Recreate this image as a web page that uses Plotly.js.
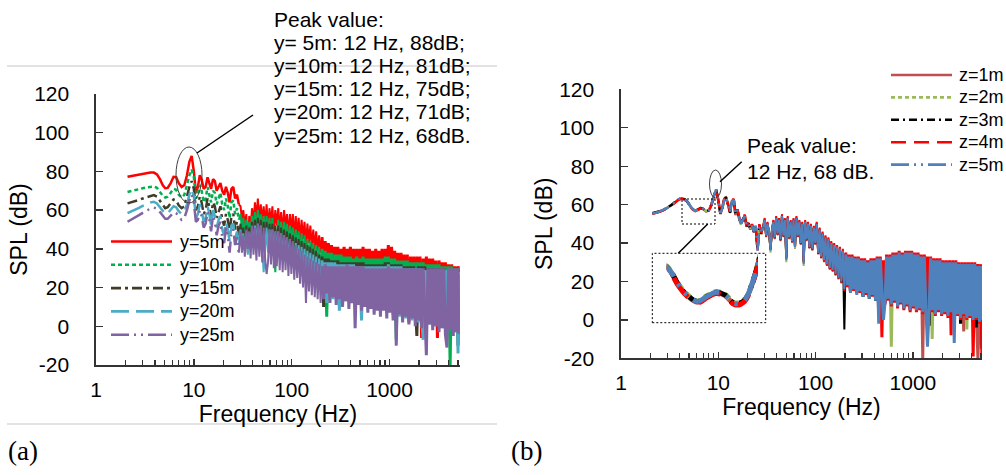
<!DOCTYPE html>
<html>
<head>
<meta charset="utf-8">
<script src="https://cdn.plot.ly/plotly-3.0.1.min.js"></script>
<style>html,body{margin:0;padding:0;background:#fff}#chart{width:1006px;height:475px}</style>
</head>
<body>
<div id="chart"></div>
<script>
// ---------------- DATA ----------------
const freq = [2.1,2.3,2.5,2.75,3.0,3.3,3.6,3.9,4.2,4.5,4.8,5.1,5.4,5.8,6.2,6.6,7.0,7.5,8.0,8.5,9.0,9.5,
10.0,10.5,11.0,11.5,12.0,12.6,13.2,13.8,14.4,15.0,15.7,16.4,17.1,17.9,18.7,19.5,20.4,21.3,22.2,23.2,24.2,25.3,26.4,27.6,28.8,
30,31,32,33.2,34.4,35.6,36.8,38,39.3,40.7,42.1,43.6,45.1,46.7,48.3,50,51.7,53.5,55.4,57.3,59.3,61.4,63.5,65.7,68,70.4,72.9,75.4,78,80.8,
83.6,86.5,89.5,92.6,95.9,99.2,102.7,106.3,110,113.8,117.8,121.9,126.2,130.6,135.2,139.9,144.8,149.9,155.1,160.5,166.2,172,178,184.2,190.7,197.4,
204,212,220,228,237,246,255,265,275,285,296,307,319,331,343,356,370,384,398,413,429,445,462,480,498,517,536,557,578,600,
622,646,670,696,722,750,778,807,838,870,903,937,972,1009,1048,1087,1129,1171,1216,1262,1310,1360,1411,1465,1520,1578,1638,1700,1765,1832,
1901,1973,2048,2126,2207,2291,2378,2468,2562,2659,2760,2865,2974,3087,3204,3326,3452,3583,3719,3861,4007,4160,4318,4482,4652,4829,5012,5110];

// Panel (a): lateral distance y
const namesA = ['y=5m','y=10m','y=15m','y=20m','y=25m'];
const splY5 = [77.2,77.6,78,78.5,79,79.3,79.5,79.4,78.5,76,73,71.3,71.5,74,77.2,77,74,72,73,78,85,88,
80,69,72,78,76,71,72,77,74,71,76,75,70,72,74,70,68,72,69,64,71,72,66,68,63,
62,55,60,52,58,38,57,50,61,53,64,56,66,55,63,54,62,52,63,50,61,53,62,49,60,52,61,50,59,48,60,51,58,47,58,49,58,46,57,47,56,44,55,45,54,42,53,43,52,41,50,40,49,39,47,38,
46,36,44,33,43,35,42,31,41,33,41,30,40,32,41,29,40,31,41,28,40,30,40,27,40,29,41,28,40,27,40,29,39,26,40,28,39,27,40,26,
40,28,42,25,41,27,39,24,38,26,38,23,37,25,37,2,36,24,36,22,36,24,36,-6,35,23,36,21,35,23,35,20,34,-6,34,22,33,19,33,21,
32,18,32,20,31,17,31,28];
const splY10 = [69.4,69.8,70.3,70.8,71.3,71.8,72.2,72.2,71.5,69.5,67.5,66.5,67,69,71,70.5,68,66.5,68,73,78,81,
77,66,68,73,70,64,66,72,68,64,70,69,63,66,69,63,60,66,62,56,64,65,58,61,55,
58,50,56,47,55,44,54,46,57,48,59,50,60,49,58,47,57,48,57,46,56,47,56,45,28,46,55,44,54,43,54,44,53,41,52,42,51,40,50,39,49,37,48,36,47,34,45,33,44,32,43,30,42,29,41,28,
40,28,39,5,38,26,38,24,37,27,37,23,37,26,36,22,36,25,36,21,35,24,36,20,35,23,36,19,35,22,35,18,35,21,35,17,35,20,35,16,
36,19,36,15,35,18,35,-7,34,17,34,14,34,16,34,13,33,15,33,12,33,14,33,11,33,13,32,10,32,12,32,9,32,11,32,8,31,10,31,7,
31,-20,31,6,30,8,30,29];
const splY15 = [63.5,64,64.6,65.3,66,66.8,67.5,67.8,67,65,62.5,61,61.5,63.5,65.5,65,62.5,61,62,67,72,75,
71,60,62,67,64,58,60,66,62,57,64,62,56,59,62,55,52,58,55,48,57,58,50,54,47,
53,45,51,42,52,40,51,43,54,44,55,45,56,44,55,42,54,43,54,41,53,42,53,40,52,41,52,39,51,38,50,39,49,36,48,37,47,34,46,35,45,32,44,31,43,22,42,29,41,27,40,26,39,24,37,23,
36,10,35,24,35,22,34,25,34,21,34,24,33,20,33,23,33,19,33,22,33,18,33,21,33,17,33,20,32,16,32,19,32,15,32,18,32,14,32,17,
33,13,33,16,32,12,32,15,32,11,32,14,31,10,31,13,31,9,31,12,-5,31,11,31,8,31,10,30,7,30,9,30,6,30,8,30,5,30,7,29,
4,29,6,29,3,29,-10,27];
const splY20 = [58.5,59.3,60.2,61.2,62.2,63.2,64,64.3,63.5,61.5,59.5,58,58.3,60,62,61.5,59.5,58,59,63,68,71,
67,56,58,63,60,54,56,62,58,52,60,57,51,55,57,50,47,54,50,44,52,53,45,49,42,
50,41,48,39,49,37,48,40,51,41,52,42,53,41,52,39,28,40,51,38,50,39,50,37,49,38,49,36,48,35,47,36,46,33,45,34,31,31,43,32,42,29,41,28,40,26,39,25,38,23,37,22,36,20,35,19,
34,18,33,12,33,19,33,14,33,18,32,8,32,17,32,13,32,16,32,12,32,15,31,11,31,3,31,13,31,10,31,13,31,9,31,12,31,8,31,11,
31,7,32,10,31,6,31,9,31,5,31,8,30,4,30,7,30,3,30,6,30,2,30,5,-7,29,4,29,1,29,3,29,0,29,2,29,-1,29,1,29,
-2,28,0,28,-3,28,-14,27];
const splY25 = [54,55,56.2,57.4,58.6,59.8,60.8,61.3,60.8,59,57,55.5,55.5,57,58.7,58.5,56.5,55,56,60,65,68,
64,54,55,60,57,51,53,59,55,49,57,54,47,52,54,46,43,51,47,38,49,50,42,46,38,
49,38,47,36,50,40,49,35,52,37,51,34,53,36,52,33,51,35,27,33,50,32,50,30,49,31,49,29,48,28,47,29,46,26,45,27,44,24,42,25,40,22,39,20,37,12,36,18,35,16,34,15,33,14,32,12,
31,14,32,17,31,12,31,15,31,11,31,14,31,10,31,13,32,9,31,12,31,-1,31,11,31,8,31,10,30,7,30,9,30,6,30,8,30,5,30,8,
30,4,31,7,30,3,30,-10,30,6,30,2,30,5,30,1,30,4,30,0,30,3,30,-1,30,2,-15,30,1,30,-2,30,0,30,-3,30,-1,30,-4,-11,
30,-2,30,-5,30,-3,30,-4];

// Panel (b): height z
const namesB = ['z=1m','z=2m','z=3m','z=4m','z=5m'];
const splZ1 = [55.3,55.7,56.4,57.2,58.2,59.7,61.2,62.6,63.2,62.7,61.4,59.2,57.7,56.7,57.5,58.1,57.7,56.4,56.9,59.9,64.4,67.6,
62.3,55,58.4,62.8,63.6,59.5,56.4,61.8,62,54.5,57.5,52.5,50.5,52.5,53.5,48.5,50.5,47,49.5,45.5,48.5,37,48.5,45.5,47.5,
52.5,43,50.5,45,37,46,51.5,42,53.5,44,52.5,41,54.5,43,52.5,33,53.5,42,51.5,40,52.5,37,53.5,43,51.5,39,50.5,31,51.5,41,50.5,37,49.5,36,48.5,39,50,34,47.5,32,45.5,30,43.5,28,42.5,26,40.5,25,39.5,23,38.5,21,37.5,19,36.5,17,
34,19,33,15,33,17,32,14,32,16,31,13,31,15,30,12,31,14,31,11,32,6,32,12,30,10,33,12,33,9,34,11,34,8,35,10,34,7,35,9,
35,6,35,8,34,6,34,7,33,-20,33,7,32,5,32,6,31,4,31,6,31,4,30,5,30,3,30,5,30,2,30,4,29,2,29,-6,29,2,29,3,
29,1,29,2,-20,0,28,-8];
const splZ2 = [55.4,55.8,56.6,57.4,58.4,59.9,61.4,62.8,63.4,62.9,61.6,59.4,57.9,56.9,57.7,58.3,57.9,56.6,57.1,60.1,64.6,67.7,
61.8,55.8,57.6,62.2,64.3,60.4,55.6,61.2,62.8,55.5,56.6,53.4,49.6,51.6,54.4,49.5,49.6,48,48.6,46.5,49.4,38,49.3,44.6,48.3,
51.5,44.5,49.5,46.5,35,47.5,50.5,43.5,52.5,45.5,51.5,42.5,53.5,44.5,51.5,30,52.5,43.5,50.5,41.5,51.5,37,52.5,44.5,50.5,40.5,49.5,28,50.5,42.5,49.5,38.5,48.5,37.5,47.5,40.5,49.5,35.5,46.5,33.5,44.5,31.5,42.5,29.5,41.5,27.5,39.5,26.5,38.5,24.5,37.5,22.5,36.5,20.5,35.5,17,
33,19,32,16,32,17,31,15,31,16,30,13,30,15,29,12,30,14,30,11,31,7,31,12,29,10,32,12,32,-14,33,11,33,8,34,10,33,7,34,9,
34,6,34,8,33,6,33,7,32,5,32,7,31,5,31,-10,30,4,30,6,30,4,29,5,29,3,29,5,29,2,29,4,28,2,28,4,28,-5,28,3,
28,1,28,2,27,0,27,1];
const splZ3 = [55.5,55.9,56.5,57.3,58.3,59.8,61.3,62.7,63.3,62.8,61.5,59.3,57.8,56.8,57.6,58.2,57.8,56.5,57.0,60.0,64.5,67.9,
62.1,55.3,58.2,62.4,63.9,59.8,55.8,61.4,62.6,54.8,57.2,52.8,49.8,52.2,54.2,48.8,50.2,47.2,49.2,45.8,49.2,36.5,49.1,44.8,48.1,
52,43.5,50,45.5,36.5,46.5,51,42.5,53,44.5,52,41.5,54,43.5,52,32,53,42.5,51,40.5,52,38,53,43.5,51,39.5,50,30,51,41.5,50,37.5,49,36.5,48,39.5,50.5,34.5,47,32.5,45,30.5,43,28.5,42,26.5,40,25.5,39,23.5,38,21.5,37,19.5,36,-5,
34,18,33,15,33,16,32,14,32,15,31,12,31,14,30,11,31,13,31,10,32,5,32,11,30,9,33,11,33,8,34,10,34,7,35,9,34,6,35,8,
35,5,35,7,34,5,34,6,33,4,33,6,32,-3,32,5,31,3,31,5,31,3,30,4,30,2,30,4,30,1,30,3,29,-2,29,3,29,1,29,2,
29,0,29,-4,28,-1,28,-15];
const splZ4 = [55.2,55.6,56.3,57.1,58.1,59.6,61.1,62.5,63.1,62.6,61.3,59.1,57.6,56.6,57.4,58.0,57.6,56.3,56.8,59.8,64.3,67.5,
62.6,55.2,58.6,63,64.5,60.3,56.2,62,63,55.2,57.8,53.5,50.3,52.8,54.8,49.2,50.8,47.7,49.8,46.2,49.8,35.5,49.8,45.2,48.8,
53,43.5,51,45.5,37,46.5,52,42.5,54,44.5,53,41.5,55,43.5,53,32,54,42.5,52,40.5,53,38,54,43.5,52,39.5,51,30,52,41.5,51,37.5,50,36.5,49,39.5,51,34.5,48,32.5,46,30.5,44,28.5,43,26.5,41,25.5,40,23.5,39,21.5,38,19.5,37,15,
35,17,34,15,34,15,33,14,33,14,32,13,32,13,31,12,32,12,32,11,33,2,33,-9,31,8,34,10,34,7,35,9,35,6,36,8,35,5,36,7,
36,4,36,6,35,4,35,5,34,3,34,5,33,3,33,4,32,2,32,4,32,2,31,3,31,1,31,-8,31,3,31,2,30,0,30,2,30,0,30,1,
30,-19,30,0,29,-2,29,-19];
const splZ5 = [55.5,55.8,56.5,57.3,58.3,59.8,61.3,62.7,63.3,62.8,61.5,59.3,57.8,56.8,57.6,58.2,57.8,56.5,57.0,60.0,64.5,67.8,
62,55.5,58,62.5,64,60,56,61.5,62.5,55,57,53,50,52,54,49,50,47.5,49,46,49,36,49,45,48,
52,44,50,46,36,47,51,43,53,45,52,42,54,44,52,31,53,43,51,41,52,38,53,44,51,40,50,29,51,42,50,38,49,37,48,40,50,35,47,33,45,31,43,29,42,27,40,26,39,24,38,22,37,20,36,16,
34,18,33,14,33,16,32,13,32,15,31,12,31,14,30,11,31,13,31,10,32,-2,32,11,0,9,33,11,33,8,34,10,34,7,35,9,34,6,35,8,
35,5,35,7,34,5,34,6,33,4,33,6,-14,4,32,5,31,3,31,5,31,3,30,4,30,2,30,4,30,-12,30,3,29,1,29,3,29,1,29,2,
29,0,29,1,28,-1,28,0];

const xTickVals = [1, 10, 100, 1000];
const xTickText = ['1', '10', '100', '1000'];
const yTickVals = [-20, 0, 20, 40, 60, 80, 100, 120];
const yTickText = ['-20', '0', '20', '40', '60', '80', '100', '120'];
const peakTextA = ['Peak value:', 'y= 5m: 12 Hz, 88dB;', 'y=10m: 12 Hz, 81dB;', 'y=15m: 12 Hz, 75dB;', 'y=20m: 12 Hz, 71dB;', 'y=25m: 12 Hz, 68dB.'];
const peakTextB = ['Peak value:', '12 Hz, 68 dB.'];
const axisTitleX = 'Frequency (Hz)';
const axisTitleY = 'SPL (dB)';

// ---------------- STYLE ----------------
const W = 1006, H = 475;
const PX = p => p / W;
const PY = p => 1 - p / H;
const FONT = 'Liberation Sans, Arial, Helvetica, sans-serif';

const stylesA = [
  {color: '#FF0000', dash: 'solid'},
  {color: '#00B050', dash: '4px,3px'},
  {color: '#3F3D2A', dash: '10px,4px,3px,4px'},
  {color: '#4BACC6', dash: '18px,7px'},
  {color: '#8064A2', dash: '18px,5px,2px,5px,2px,5px'}
];
const stylesB = [
  {color: '#C0504D', dash: 'solid'},
  {color: '#9BBB59', dash: '4px,3px'},
  {color: '#000000', dash: '8px,4px,2px,4px'},
  {color: '#FF0000', dash: '15px,8px'},
  {color: '#4F81BD', dash: '18px,5px,2px,5px,2px,5px'}
];
const seriesA = [splY5, splY10, splY15, splY20, splY25];
const seriesB = [splZ1, splZ2, splZ3, splZ4, splZ5];

// index ranges: smooth part drawn with the dash style, noisy parts solid
const SPLIT1 = 46, SPLIT2 = 103;
const traces = [];
function part(y, st, xa, ya, name, i0, i1, width, dash) {
  traces.push({x: freq.slice(i0, i1 + 1), y: y.slice(i0, i1 + 1), xaxis: xa, yaxis: ya,
    mode: 'lines', name: name, showlegend: false, hoverinfo: 'skip',
    line: {color: st.color, width: width, dash: dash}});
}
function addSeries(y, st, xa, ya, name) {
  part(y, st, xa, ya, name, 0, SPLIT1, 2.5, st.dash);
  part(y, st, xa, ya, name, SPLIT1, SPLIT2, 2, 'solid');
  part(y, st, xa, ya, name, SPLIT2, freq.length - 1, 3, 'solid');
}
seriesA.forEach((s, i) => addSeries(s, stylesA[i], 'x', 'y', namesA[i]));
seriesB.forEach((s, i) => addSeries(s, stylesB[i], 'x2', 'y2', namesB[i]));
// magnified inset of the 4.7-8.8 Hz region in panel (b)
seriesB.forEach((s, i) => traces.push({x: freq, y: s, xaxis: 'x3', yaxis: 'y3', mode: 'lines',
  showlegend: false, hoverinfo: 'skip',
  line: {color: stylesB[i].color, width: 5, shape: 'spline', dash: stylesB[i].dash === 'solid' ? 'solid' :
    stylesB[i].dash.split(',').map(v => (parseFloat(v) * 1.6) + 'px').join(',')}}));

// minor tick positions for log axes
const minorVals = [];
[1, 10, 100, 1000].forEach(d => { for (let k = 2; k <= 9; k++) if (d * k < 5200) minorVals.push(d * k); });

function xAxis(domPx, rangeMax, anchor) {
  return {domain: [PX(domPx[0]), PX(domPx[1])], anchor: anchor, type: 'log', range: [0, rangeMax],
    tickmode: 'array', tickvals: xTickVals, ticktext: xTickText, ticks: 'inside', ticklen: 6,
    tickwidth: 1.3, tickcolor: '#333', showline: true, linecolor: '#333', linewidth: 1.6,
    showgrid: false, zeroline: false, ticklabelstandoff: 5,
    tickfont: {family: FONT, size: 21, color: '#000'},
    minor: {tickmode: 'array', tickvals: minorVals, ticks: 'inside', ticklen: 5, tickwidth: 1.2, tickcolor: '#333', showgrid: false},
    title: {text: axisTitleX, font: {family: FONT, size: 23, color: '#000'}, standoff: 0}};
}
function yAxis(domPx, anchor) {
  return {domain: [PY(domPx[1]), PY(domPx[0])], anchor: anchor, range: [-20, 120],
    tickmode: 'array', tickvals: yTickVals, ticktext: yTickText, ticks: 'inside', ticklen: 7, tickwidth: 1.3, tickcolor: '#333',
    showline: true, linecolor: '#333', linewidth: 1.6, showgrid: false, zeroline: false,
    ticklabelstandoff: 21, tickfont: {family: FONT, size: 21, color: '#000'},
    title: {text: axisTitleY, font: {family: FONT, size: 23, color: '#000'}, standoff: 0}};
}

const shapes = [];
const annotations = [];
function pline(x0, y0, x1, y1, color, width, dash, layer) {
  shapes.push({type: 'line', xref: 'paper', yref: 'paper', x0: PX(x0), y0: PY(y0), x1: PX(x1), y1: PY(y1),
    line: {color: color, width: width, dash: dash || 'solid'}, layer: layer || 'above'});
}
function prect(x0, y0, x1, y1) {
  shapes.push({type: 'rect', xref: 'paper', yref: 'paper', x0: PX(x0), y0: PY(y1), x1: PX(x1), y1: PY(y0),
    line: {color: '#000', width: 1, dash: '2px,2px'}, fillcolor: 'rgba(0,0,0,0)'});
}
function pellipse(x0, y0, x1, y1) {
  shapes.push({type: 'circle', xref: 'paper', yref: 'paper', x0: PX(x0), y0: PY(y1), x1: PX(x1), y1: PY(y0),
    line: {color: '#404040', width: 1}});
}
function ptext(x, y, text, size, family, xanchor) {
  annotations.push({xref: 'paper', yref: 'paper', x: PX(x), y: PY(y), text: text, showarrow: false,
    xanchor: xanchor || 'left', yanchor: 'middle', font: {family: family || FONT, size: size, color: '#000'}});
}

// panel frame lines (a)
pline(7, 66, 497, 66, '#d9d9d9', 1.5, 'solid', 'below');
pline(7, 424, 497, 424, '#d9d9d9', 1.5, 'solid', 'below');
// peak callouts
pellipse(176, 147, 202, 203);
pline(197, 153, 253, 115, '#000', 1.5);
pellipse(709.5, 170, 721.5, 198);
pline(720, 181.7, 741.7, 161.7, '#000', 1.5);
prect(682, 199, 715, 224);
prect(652.3, 253.3, 765.7, 322.7);
pline(707.7, 224, 678.3, 253.3, '#000', 1.5);

peakTextA.forEach((t, i) => ptext(272, 19 + i * 23.2, t, 21));
peakTextB.forEach((t, i) => ptext(745, 145 + i * 26, t, 21));

// legends
namesA.forEach((n, i) => {
  const yy = 241.5 + i * 23.3;
  pline(111, yy, 172, yy, stylesA[i].color, 2.6, stylesA[i].dash);
  ptext(178, yy, n, 18);
});
namesB.forEach((n, i) => {
  const yy = 75 + i * 22.4;
  pline(891, yy, 952, yy, stylesB[i].color, 2.6, stylesB[i].dash);
  ptext(957, yy, n, 18);
});
ptext(6, 451, '(a)', 27, 'Liberation Serif, Times New Roman, serif');
ptext(509, 451, '(b)', 27, 'Liberation Serif, Times New Roman, serif');

const hide = {showline: false, showticklabels: false, ticks: '', showgrid: false, zeroline: false};
const layout = {
  width: W, height: H, margin: {l: 0, r: 0, t: 0, b: 0}, paper_bgcolor: '#fff', plot_bgcolor: 'rgba(0,0,0,0)',
  showlegend: false, hovermode: false, font: {family: FONT, color: '#000'},
  xaxis: xAxis([96, 460], 3.72, 'y'),
  yaxis: yAxis([94, 365], 'x'),
  xaxis2: xAxis([621, 982], 3.71, 'y2'),
  yaxis2: yAxis([89.3, 358.3], 'x2'),
  xaxis3: Object.assign({domain: [PX(666.7), PX(758)], anchor: 'y3', type: 'log',
    range: [Math.log10(4.7), Math.log10(8.78)]}, hide),
  yaxis3: Object.assign({domain: [PY(323), PY(253)], anchor: 'x3', range: [53.6, 64.05]}, hide),
  shapes: shapes, annotations: annotations
};
Plotly.newPlot('chart', traces, layout, {displayModeBar: false, staticPlot: true});
</script>
</body>
</html>
